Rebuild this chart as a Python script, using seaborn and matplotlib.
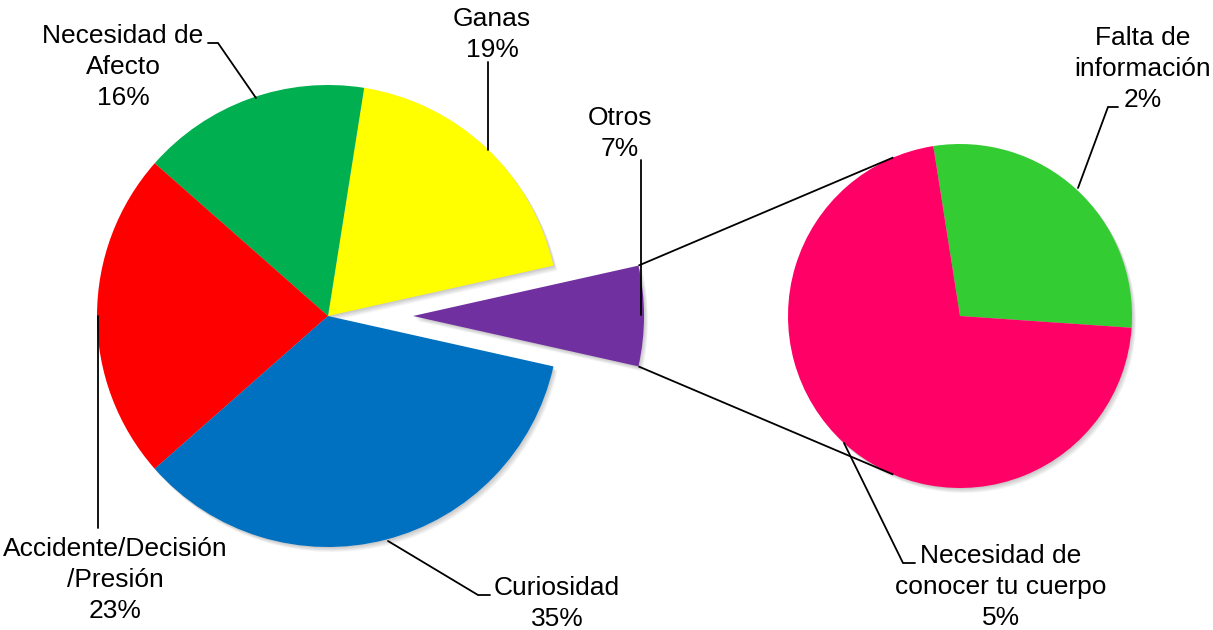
import numpy as np
import matplotlib
matplotlib.use("Agg")
import matplotlib.pyplot as plt
import seaborn as sns

# Main pie: reasons (Otros is broken out into the secondary pie)
main_names = ["Otros", "Ganas", "Necesidad de\nAfecto", "Accidente/Decisión\n/Presión", "Curiosidad"]
main_values = [7, 19, 16, 23, 35]
main_colors = ["#7030A0", "#FFFF00", "#00B050", "#FF0000", "#0070C0"]

# Secondary pie: breakdown of "Otros"
sub_names = ["Falta de\ninformación", "Necesidad de\nconocer tu cuerpo"]
sub_values = [2, 5]
sub_colors = ["#33CC33", "#FF0066"]

sns.set_theme(style="white")
plt.rcParams["font.family"] = ["Liberation Sans", "DejaVu Sans"]

W, H = 1213, 630
fig = plt.figure(figsize=(W / 100, H / 100), dpi=100)
ax = fig.add_axes([0, 0, 1, 1])

total = sum(main_values)
LINE_STEP = 30  # distance between text baselines, in pixels


def draw_pie(values, colors, center, radius, start, explode):
    # soft drop shadow made of a few faint offset copies
    for k in range(1, 6):
        ax.pie(values, colors=["#000000"] * len(values), center=(center[0] + 0.8 * k, center[1] - 1.0 * k),
               radius=radius, startangle=start, explode=explode, frame=True,
               wedgeprops=dict(linewidth=0, edgecolor="none", alpha=0.045))
    wedges, _ = ax.pie(values, colors=colors, center=center, radius=radius, startangle=start,
                       explode=explode, frame=True,
                       wedgeprops=dict(linewidth=0, edgecolor="none"))
    return wedges


def put_label(name, val, x, first_baseline):
    text = f"{name}\n{val / total * 100:.0f}%"
    n = text.count("\n")
    ax.text(x, first_baseline - n * LINE_STEP, text, ha="center", va="baseline",
            multialignment="center", fontsize=19, color="black", linespacing=1.36, zorder=6)


# main pie with the first slice centred on the right and pulled out
main_start = -main_values[0] / total * 180.0
main_wedges = draw_pie(main_values, main_colors, (328, 314), 231, main_start,
                       [85, 0, 0, 0, 0])

# secondary pie
sub_total = sum(sub_values)
sub_start = 47.5 - sub_values[0] / sub_total * 180.0
sub_wedges = draw_pie(sub_values, sub_colors, (960, 314), 172, sub_start, None)

# connector lines from the pulled-out slice to the secondary pie
ow = main_wedges[0]
sc = np.array(sub_wedges[0].center)
sr = sub_wedges[0].r
for th_main, th_sub in [(ow.theta2, 112.8), (ow.theta1, 247.2)]:
    p0 = np.array(ow.center) + ow.r * np.array([np.cos(np.radians(th_main)), np.sin(np.radians(th_main))])
    p1 = sc + sr * np.array([np.cos(np.radians(th_sub)), np.sin(np.radians(th_sub))])
    ax.plot([p0[0], p1[0]], [p0[1], p1[1]], color="black", lw=1.3, solid_capstyle="butt", zorder=5)

# leader lines for the labels
leaders = [
    [(488, 480), (488, 568)],
    [(256, 532), (218, 587), (208, 587)],
    [(98, 314), (98, 102)],
    [(388, 89), (478, 35), (490, 35)],
    [(641, 315), (641, 470)],
    [(1078, 442), (1108, 523), (1118, 523)],
    [(844, 187), (903, 67), (915, 67)],
]
for pts in leaders:
    xs, ys = zip(*pts)
    ax.plot(xs, ys, color="black", lw=1.3, solid_joinstyle="miter", zorder=5)

# data labels: name + rounded share (x centre, baseline of first line)
label_pos_main = [(620, 504), (492, 603), (123, 585), (115, 72), (557, 34)]
for name, val, (x, y) in zip(main_names, main_values, label_pos_main):
    put_label(name, val, x, y)

label_pos_sub = [(1143, 583), (1001, 65)]
for name, val, (x, y) in zip(sub_names, sub_values, label_pos_sub):
    put_label(name, val, x, y)

ax.set_xlim(0, W)
ax.set_ylim(0, H)
ax.set_aspect("equal")
ax.axis("off")

fig.savefig("out.png", dpi=100, facecolor="white")
